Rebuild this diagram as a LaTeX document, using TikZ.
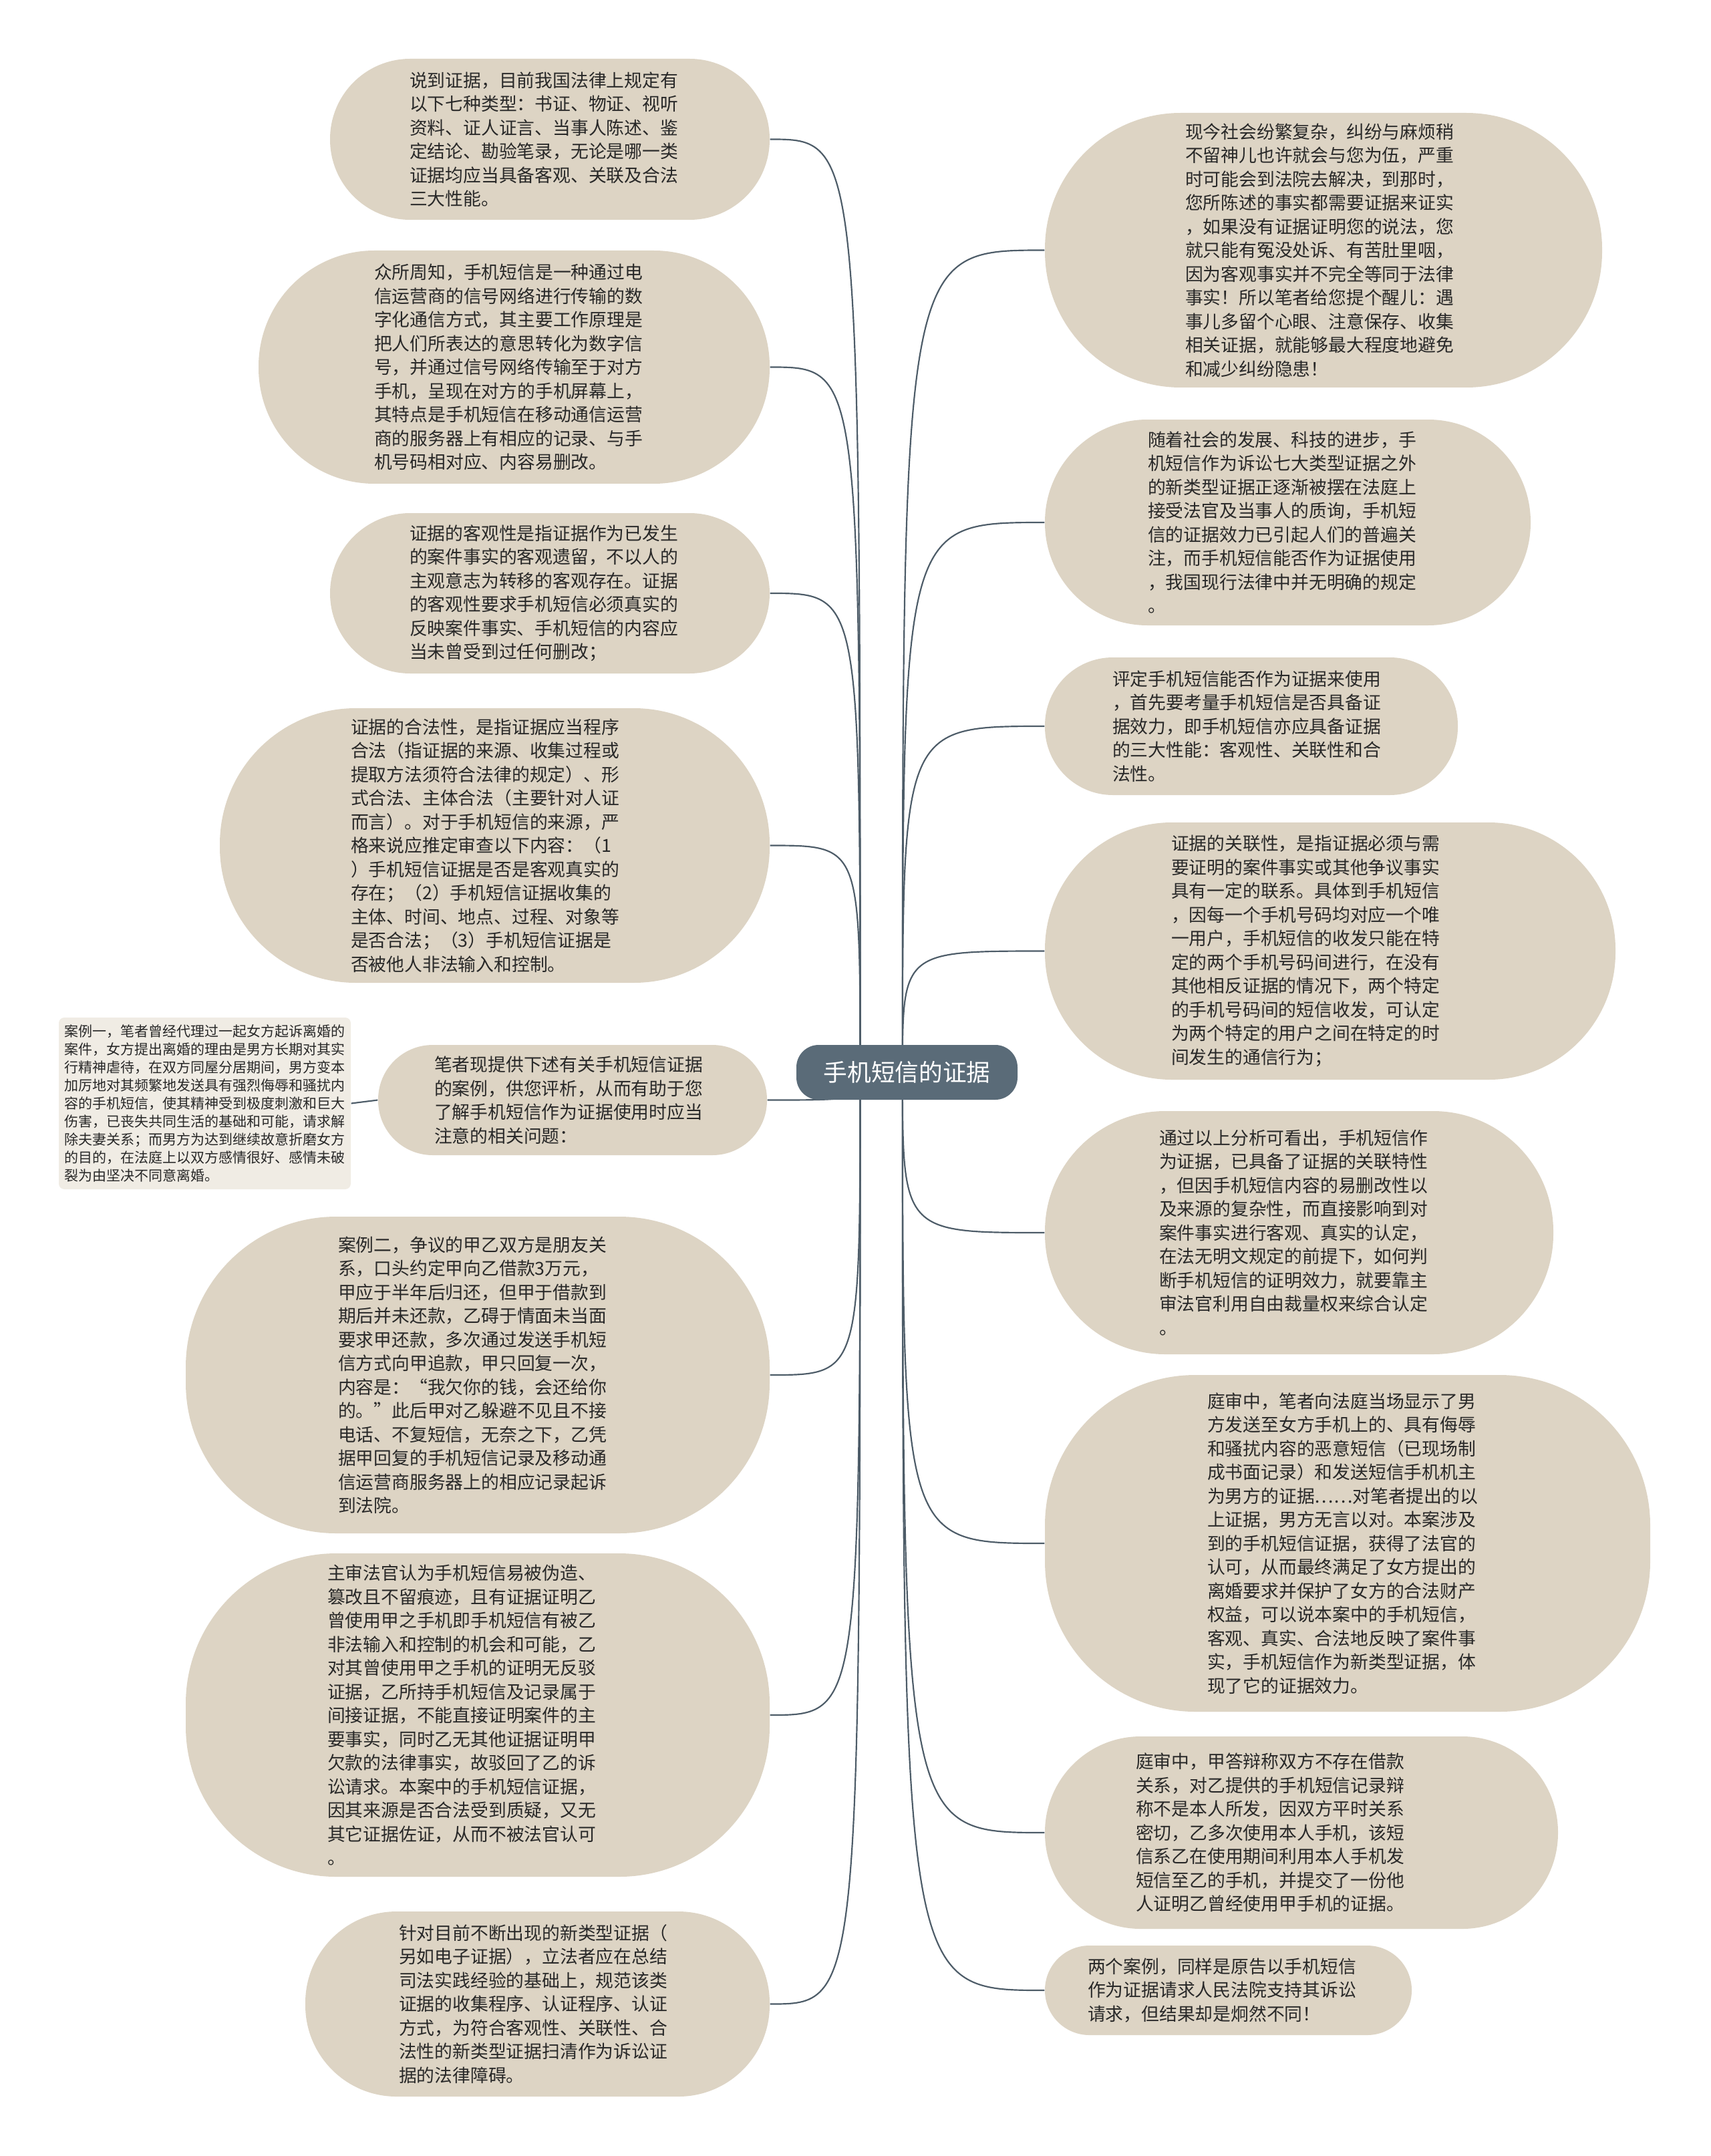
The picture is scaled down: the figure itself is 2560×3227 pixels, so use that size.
\documentclass[tikz,border=0pt]{standalone}
\usepackage{fontspec}
\newfontfamily\cjk{Noto Sans CJK SC}
\usetikzlibrary{backgrounds}
\definecolor{beige}{RGB}{221,212,196}
\definecolor{pale}{RGB}{240,236,228}
\definecolor{slate}{RGB}{90,107,120}
\definecolor{wire}{RGB}{77,92,104}
\definecolor{ink}{RGB}{40,40,40}
\begin{document}
\begin{tikzpicture}[x=0.3pt,y=-0.3pt,
  pill/.style={fill=beige, inner sep=0pt, align=left, text width=125pt,
    font=\cjk\fontsize{8.04}{10.65}\selectfont, text=ink},
  smallbox/.style={fill=pale, inner sep=0pt, align=left, text width=126pt,
    font=\cjk\fontsize{6.3}{8.1}\selectfont, text=ink, rounded corners=2.5pt},
  hub/.style={fill=slate, text=white, inner sep=0pt, rounded corners=10pt,
    font=\cjk\fontsize{10.7}{13}\selectfont},
  wirestyle/.style={draw=wire, line width=0.65pt}]
\useasboundingbox (0,0) rectangle (2560,3227);

\node[hub, minimum width=99.3pt, minimum height=24.6pt] (ctr) at (1357.5,1605) {手机短信的证据};

\node[pill, text width=126pt, minimum width=197.4pt, minimum height=72.3pt, rounded corners=36pt] (L1) at (823,208.5) {说到证据，目前我国法律上规定有\\以下七种类型：书证、物证、视听\\资料、证人证言、当事人陈述、鉴\\定结论、勘验笔录，无论是哪一类\\证据均应当具备客观、关联及合法\\三大性能。};

\node[pill, text width=125.7pt, minimum width=229.5pt, minimum height=104.7pt, rounded corners=52pt] (L2) at (769.5,549.5) {众所周知，手机短信是一种通过电\\信运营商的信号网络进行传输的数\\字化通信方式，其主要工作原理是\\把人们所表达的意思转化为数字信\\号，并通过信号网络传输至于对方\\手机，呈现在对方的手机屏幕上，\\其特点是手机短信在移动通信运营\\商的服务器上有相应的记录、与手\\机号码相对应、内容易删改。};

\node[pill, text width=126pt, minimum width=197.4pt, minimum height=72pt, rounded corners=36pt] (L3) at (823,888) {证据的客观性是指证据作为已发生\\的案件事实的客观遗留，不以人的\\主观意志为转移的客观存在。证据\\的客观性要求手机短信必须真实的\\反映案件事实、手机短信的内容应\\当未曾受到过任何删改；};

\node[pill, text width=129.3pt, minimum width=246.9pt, minimum height=123.3pt, rounded corners=61pt] (L4) at (740.5,1265.5) {证据的合法性，是指证据应当程序\\合法（指证据的来源、收集过程或\\提取方法须符合法律的规定）、形\\式合法、主体合法（主要针对人证\\而言）。对于手机短信的来源，严\\格来说应推定审查以下内容：（1\\）手机短信证据是否是客观真实的\\存在；（2）手机短信证据收集的\\主体、时间、地点、过程、对象等\\是否合法；（3）手机短信证据是\\否被他人非法输入和控制。};

\node[pill, text width=124.2pt, minimum width=174.6pt, minimum height=49.5pt, rounded corners=24.5pt] (L5) at (857,1646.5) {笔者现提供下述有关手机短信证据\\的案例，供您评析，从而有助于您\\了解手机短信作为证据使用时应当\\注意的相关问题：};

\node[smallbox, minimum width=131.1pt, minimum height=77.1pt] (case1) at (306.5,1651.5) {案例一，笔者曾经代理过一起女方起诉离婚的\\案件，女方提出离婚的理由是男方长期对其实\\行精神虐待，在双方同屋分居期间，男方变本\\加厉地对其频繁地发送具有强烈侮辱和骚扰内\\容的手机短信，使其精神受到极度刺激和巨大\\伤害，已丧失共同生活的基础和可能，请求解\\除夫妻关系；而男方为达到继续故意折磨女方\\的目的，在法庭上以双方感情很好、感情未破\\裂为由坚决不同意离婚。};

\node[pill, text width=125.4pt, minimum width=262.2pt, minimum height=142.2pt, rounded corners=67.5pt] (L6) at (715,2058) {案例二，争议的甲乙双方是朋友关\\系，口头约定甲向乙借款3万元，\\甲应于半年后归还，但甲于借款到\\期后并未还款，乙碍于情面未当面\\要求甲还款，多次通过发送手机短\\信方式向甲追款，甲只回复一次，\\内容是：“我欠你的钱，会还给你\\的。”此后甲对乙躲避不见且不接\\电话、不复短信，无奈之下，乙凭\\据甲回复的手机短信记录及移动通\\信运营商服务器上的相应记录起诉\\到法院。};

\node[pill, text width=135pt, minimum width=262.2pt, minimum height=145.2pt, rounded corners=67.5pt] (L7) at (715,2567) {主审法官认为手机短信易被伪造、\\篡改且不留痕迹，且有证据证明乙\\曾使用甲之手机即手机短信有被乙\\非法输入和控制的机会和可能，乙\\对其曾使用甲之手机的证明无反驳\\证据，乙所持手机短信及记录属于\\间接证据，不能直接证明案件的主\\要事实，同时乙无其他证据证明甲\\欠款的法律事实，故驳回了乙的诉\\讼请求。本案中的手机短信证据，\\因其来源是否合法受到质疑，又无\\其它证据佐证，从而不被法官认可\\。};

\node[pill, text width=124.5pt, minimum width=208.5pt, minimum height=83.1pt, rounded corners=41pt] (L8) at (804.5,2999.5) {针对目前不断出现的新类型证据（\\另如电子证据），立法者应在总结\\司法实践经验的基础上，规范该类\\证据的收集程序、认证程序、认证\\方式，为符合客观性、关联性、合\\法性的新类型证据扫清作为诉讼证\\据的法律障碍。};

\node[pill, text width=124.2pt, minimum width=250.2pt, minimum height=123.3pt, rounded corners=61pt] (R1) at (1981,374.5) {现今社会纷繁复杂，纠纷与麻烦稍\\不留神儿也许就会与您为伍，严重\\时可能会到法院去解决，到那时，\\您所陈述的事实都需要证据来证实\\，如果没有证据证明您的说法，您\\就只能有冤没处诉、有苦肚里咽，\\因为客观事实并不完全等同于法律\\事实！所以笔者给您提个醒儿：遇\\事儿多留个心眼、注意保存、收集\\相关证据，就能够最大程度地避免\\和减少纠纷隐患！};

\node[pill, text width=125.7pt, minimum width=218.1pt, minimum height=92.4pt, rounded corners=46pt] (R2) at (1927.5,782) {随着社会的发展、科技的进步，手\\机短信作为诉讼七大类型证据之外\\的新类型证据正逐渐被摆在法庭上\\接受法官及当事人的质询，手机短\\信的证据效力已引起人们的普遍关\\注，而手机短信能否作为证据使用\\，我国现行法律中并无明确的规定\\。};

\node[pill, text width=124.8pt, minimum width=185.4pt, minimum height=61.8pt, rounded corners=30.5pt] (R3) at (1873,1087) {评定手机短信能否作为证据来使用\\，首先要考量手机短信是否具备证\\据效力，即手机短信亦应具备证据\\的三大性能：客观性、关联性和合\\法性。};

\node[pill, text width=142.8pt, minimum width=256.2pt, minimum height=115.5pt, rounded corners=57pt] (R4) at (1991,1423.5) {证据的关联性，是指证据必须与需\\要证明的案件事实或其他争议事实\\具有一定的联系。具体到手机短信\\，因每一个手机号码均对应一个唯\\一用户，手机短信的收发只能在特\\定的两个手机号码间进行，在没有\\其他相反证据的情况下，两个特定\\的手机号码间的短信收发，可认定\\为两个特定的用户之间在特定的时\\间发生的通信行为；};

\node[pill, text width=125.7pt, minimum width=228.3pt, minimum height=109.2pt, rounded corners=54pt] (R5) at (1944.5,1845) {通过以上分析可看出，手机短信作\\为证据，已具备了证据的关联特性\\，但因手机短信内容的易删改性以\\及来源的复杂性，而直接影响到对\\案件事实进行客观、真实的认定，\\在法无明文规定的前提下，如何判\\断手机短信的证明效力，就要靠主\\审法官利用自由裁量权来综合认定\\。};

\node[pill, text width=126pt, minimum width=271.8pt, minimum height=151.2pt, rounded corners=67.5pt] (R6) at (2017,2310) {庭审中，笔者向法庭当场显示了男\\方发送至女方手机上的、具有侮辱\\和骚扰内容的恶意短信（已现场制\\成书面记录）和发送短信手机机主\\为男方的证据……对笔者提出的以\\上证据，男方无言以对。本案涉及\\到的手机短信证据，获得了法官的\\认可，从而最终满足了女方提出的\\离婚要求并保护了女方的合法财产\\权益，可以说本案中的手机短信，\\客观、真实、合法地反映了案件事\\实，手机短信作为新类型证据，体\\现了它的证据效力。};

\node[pill, text width=148.8pt, minimum width=230.4pt, minimum height=86.4pt, rounded corners=43pt] (R7) at (1948,2743) {庭审中，甲答辩称双方不存在借款\\关系，对乙提供的手机短信记录辩\\称不是本人所发，因双方平时关系\\密切，乙多次使用本人手机，该短\\信系乙在使用期间利用本人手机发\\短信至乙的手机，并提交了一份他\\人证明乙曾经使用甲手机的证据。};

\node[pill, text width=126.3pt, minimum width=164.7pt, minimum height=40.2pt, rounded corners=20pt] (R8) at (1838.5,2979) {两个案例，同样是原告以手机短信\\作为证据请求人民法院支持其诉讼\\请求，但结果却是炯然不同！};

\coordinate (lsrc) at ([xshift=-21pt]ctr.center);
\coordinate (rsrc) at ([xshift=-2pt]ctr.center);

\begin{scope}[on background layer]
\foreach \n in {L1,L2,L3,L4,L5,L6,L7,L8}
  \draw[wirestyle] (lsrc) .. controls (lsrc |- \n.east) .. (\n.east);
\foreach \n in {R1,R2,R3,R4,R5,R6,R7,R8}
  \draw[wirestyle] (rsrc) .. controls (rsrc |- \n.west) .. (\n.west);
\draw[wirestyle] (L5.west) -- (case1.east);
\end{scope}
\end{tikzpicture}
\end{document}
